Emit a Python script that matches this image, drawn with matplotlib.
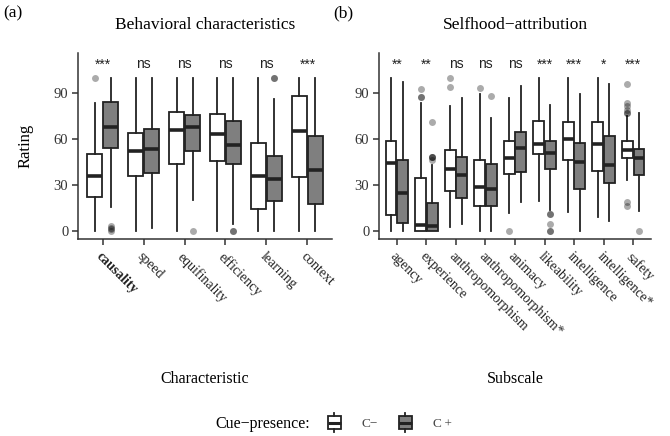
import matplotlib
matplotlib.use("Agg")
import matplotlib.pyplot as plt
from matplotlib.legend_handler import HandlerBase
from matplotlib.patches import Rectangle, Patch
from matplotlib.lines import Line2D

SERIF = ["Liberation Serif", "DejaVu Serif"]
SANS = ["Liberation Sans", "DejaVu Sans"]
plt.rcParams["font.family"] = SERIF

# ---------------- data (a) ----------------
beh_cats = ["causality", "speed", "equifinality", "efficiency", "learning", "context"]
beh_sig = ["***", "ns", "ns", "ns", "ns", "***"]
# [whislo, q1, med, q3, whishi]
beh_cm = [[0, 22, 36, 50, 83.5],
          [0, 36, 52, 64, 100],
          [0, 43.7, 66, 77.3, 100],
          [0, 45.4, 63, 76.5, 100],
          [0, 14, 36, 57.2, 100],
          [0, 35.2, 65.3, 87.8, 100]]
beh_cm_out = [[100], [], [], [], [], []]
beh_cp = [[15.7, 54, 68, 84, 100],
          [2, 37.6, 53.5, 66.4, 100],
          [20, 52.4, 67.5, 75.4, 100],
          [4.8, 43.3, 55.7, 71.4, 100],
          [0, 19.4, 34, 49, 86.3],
          [0, 17.5, 39.8, 62, 100]]
beh_cp_out = [[3, 2, 1, 0], [], [0], [0, 0], [100, 100], []]

# ---------------- data (b) ----------------
self_cats = ["agency", "experience", "anthropomorphism", "anthropomorphism*",
             "animacy", "likeability", "intelligence", "intelligence*", "safety"]
self_sig = ["**", "**", "ns", "ns", "ns", "***", "***", "*", "***"]
self_cm = [[0, 10.4, 44, 58.3, 100],
           [0, 0, 3.9, 34.3, 83.3],
           [2.8, 26, 40.2, 52.8, 81.5],
           [0, 15.9, 28.3, 46.3, 89.1],
           [11.5, 37.2, 47.2, 58.9, 86.5],
           [19.6, 50.2, 56.7, 71.7, 100],
           [12.6, 46.3, 59.8, 71.3, 100],
           [9.3, 39.3, 56.5, 70.7, 100],
           [33.3, 47.4, 52.8, 58.7, 75]]
self_cm_out = [[], [92.4, 87.6, 87.6], [99.6, 93.7], [93], [0], [], [], [],
               [95.9, 83.3, 81.2, 79, 76.8, 76.8, 19.1, 16.3]]
self_cp = [[0, 5, 25, 46.3, 97.4],
           [0, 0, 3.3, 18.5, 43],
           [4.3, 21.3, 36.3, 48, 86.5],
           [0, 16.3, 27.6, 43.5, 73.5],
           [19.1, 38.7, 54.3, 64.8, 94.6],
           [13.7, 40.2, 50.7, 58.7, 82.2],
           [0, 27.2, 44.8, 57.2, 89.3],
           [6.5, 31.5, 43, 62, 95.9],
           [13.2, 36.5, 47.8, 53.5, 76.8]]
self_cp_out = [[], [70.7, 48.5, 48.5, 48.5, 46.3], [], [88], [],
               [11, 11, 4.6, 0, 0], [], [], [0]]

groups = ["C\u2212", "C\u2009+"]
group_fill = ["white", "#7f7f7f"]
EDGE = "#222222"
yticks = [0, 30, 60, 90]

W, H = 670, 436
fig = plt.figure(figsize=(W / 100, H / 100), dpi=100)


def fx(px):
    return px / W


def fy(py):
    return 1 - py / H


def make_stats(rows, outs):
    st = []
    for r, o in zip(rows, outs):
        st.append(dict(whislo=r[0], q1=r[1], med=r[2], q3=r[3], whishi=r[4], fliers=o))
    return st


def panel(ax, cats, sig, cm, cm_out, cp, cp_out, width):
    n = len(cats)
    off = 0.195
    for stats, sign, fc in [(make_stats(cm, cm_out), -1, group_fill[0]),
                            (make_stats(cp, cp_out), 1, group_fill[1])]:
        pos = [i + sign * off for i in range(n)]
        ax.bxp(stats, positions=pos, widths=width, patch_artist=True,
               showcaps=False, manage_ticks=False,
               boxprops=dict(facecolor=fc, edgecolor=EDGE, linewidth=1.3),
               medianprops=dict(color=EDGE, linewidth=2.6, solid_capstyle="butt"),
               whiskerprops=dict(color=EDGE, linewidth=1.3),
               flierprops=dict(marker="o", markerfacecolor="black", markeredgecolor="none",
                               markersize=5, alpha=0.33))
    for i, s in enumerate(sig):
        ax.text(i, 106, s, ha="center", va="baseline", fontsize=10,
                family=SANS, color="#222222")
    ax.set_xlim(-0.6, n - 0.4)
    ax.set_ylim(-5.3, 116)
    ax.set_yticks(yticks)
    ax.set_yticklabels([str(t) for t in yticks], fontsize=10.5, color="#333333")
    ax.set_xticks(range(n))
    ax.set_xticklabels(cats, rotation=-45, ha="left", va="top",
                       rotation_mode="anchor", fontsize=10, color="#222222")
    for sp in ["top", "right"]:
        ax.spines[sp].set_visible(False)
    for sp in ["left", "bottom"]:
        ax.spines[sp].set_color("#333333")
        ax.spines[sp].set_linewidth(1.1)
    ax.tick_params(axis="both", direction="out", length=4, width=1.1, color="#333333")
    ax.tick_params(axis="y", pad=3)
    ax.tick_params(axis="x", pad=4)


ax1 = fig.add_axes([fx(78), fy(239), fx(332) - fx(78), fy(53) - fy(239)])
ax2 = fig.add_axes([fx(379), fy(239), fx(651) - fx(379), fy(53) - fy(239)])
panel(ax1, beh_cats, beh_sig, beh_cm, beh_cm_out, beh_cp, beh_cp_out, 0.35)
panel(ax2, self_cats, self_sig, self_cm, self_cm_out, self_cp, self_cp_out, 0.37)
ax1.get_xticklabels()[0].set_fontweight("bold")

fig.text(fx(26), fy(146), "Rating", rotation=90, ha="center", va="center", fontsize=12)
fig.text(fx(205), fy(25), "Behavioral characteristics", ha="center", va="center", fontsize=12.5)
fig.text(fx(515), fy(25), "Selfhood\u2212attribution", ha="center", va="center", fontsize=12.5)
fig.text(fx(3), fy(13), "(a)", ha="left", va="center", fontsize=12.5)
fig.text(fx(333), fy(13), "(b)", ha="left", va="center", fontsize=12.5)
fig.text(fx(205), fy(379), "Characteristic", ha="center", va="center", fontsize=11.5)
fig.text(fx(515), fy(379), "Subscale", ha="center", va="center", fontsize=11.5)


class BoxHandler(HandlerBase):
    # sizes in points (legend drawing area units)
    box_h = 9.5
    total_h = 14.0

    def create_artists(self, legend, orig_handle, xdescent, ydescent, width, height,
                       fontsize, trans):
        fc = orig_handle.get_facecolor()
        x0 = -xdescent
        cy = -ydescent + height / 2
        by = cy - self.box_h / 2
        cx = x0 + width / 2
        rect = Rectangle((x0, by), width, self.box_h, facecolor=fc, edgecolor=EDGE,
                         linewidth=1.3, transform=trans)
        med = Line2D([x0, x0 + width], [cy, cy], color=EDGE, lw=2.2,
                     transform=trans, solid_capstyle="butt")
        w1 = Line2D([cx, cx], [cy - self.total_h / 2, by], color=EDGE, lw=1.3,
                    transform=trans)
        w2 = Line2D([cx, cx], [by + self.box_h, cy + self.total_h / 2], color=EDGE,
                    lw=1.3, transform=trans)
        return [rect, w1, w2, med]


fig.text(fx(215), fy(424), "Cue\u2212presence:", ha="left", va="center", fontsize=11.5)
handles = [Patch(facecolor=group_fill[0]), Patch(facecolor=group_fill[1])]
leg = fig.legend(handles, groups, handler_map={Patch: BoxHandler()},
                 loc="center left", bbox_to_anchor=(fx(328), fy(424)), ncol=2,
                 frameon=False, fontsize=9.5, handlelength=0.95, handleheight=0.7,
                 handletextpad=1.6, columnspacing=1.6, borderpad=0, borderaxespad=0)
for t in leg.get_texts():
    t.set_color("#444444")

fig.savefig("out.png", dpi=100)
